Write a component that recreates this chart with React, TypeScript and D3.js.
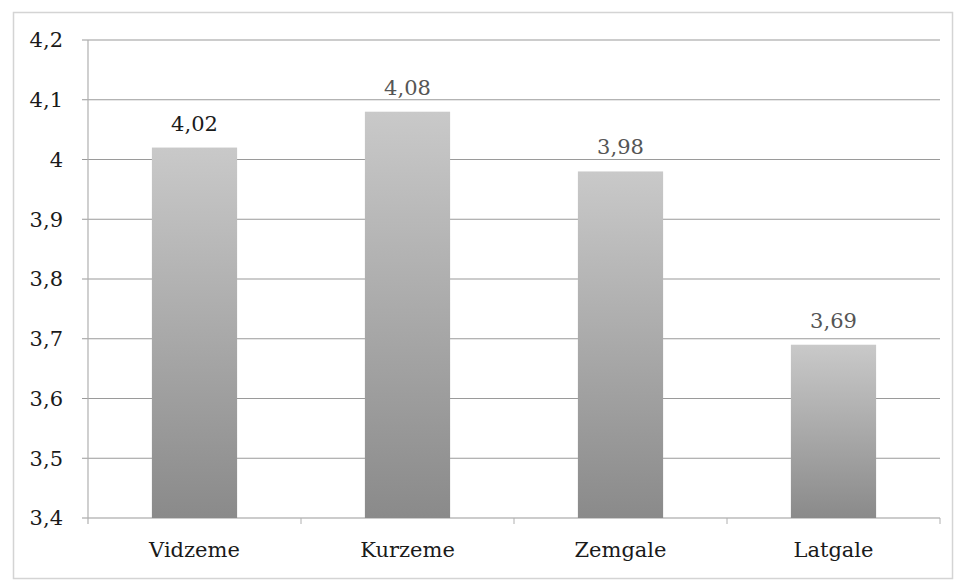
import React from "react";
import * as d3 from "d3";

const categories = ["Vidzeme", "Kurzeme", "Zemgale", "Latgale"];
const values = [4.02, 4.08, 3.98, 3.69];
const valueLabels = ["4,02", "4,08", "3,98", "3,69"];
const yTicks = [3.4, 3.5, 3.6, 3.7, 3.8, 3.9, 4.0, 4.1, 4.2];

export default function App() {
  const W = 959, H = 581;
  const left = 88, right = 940, top = 40, bottom = 518;
  const x = d3.scaleBand().domain(categories).range([left, right]).paddingInner(0).paddingOuter(0);
  const y = d3.scaleLinear().domain([3.4, 4.2]).range([bottom, top]);
  const bw = x.bandwidth() * 0.4;
  const font = "DejaVu Serif";
  const fs = 21;
  const fmt = (v: number) => (Number.isInteger(v) ? String(v) : String(v).replace(".", ","));
  return (
    <svg width={W} height={H} style={{ position: "absolute", left: 0, top: 0, background: "#fff" }}>
      <defs>
        <linearGradient id="barGrad" x1="0" y1="0" x2="0" y2="1">
          <stop offset="0%" stopColor="#c9c9c9" />
          <stop offset="100%" stopColor="#8a8a8a" />
        </linearGradient>
      </defs>
      <rect x={13.5} y={12.5} width={939} height={566} fill="#fff" stroke="#d4d4d4" strokeWidth={1.5} />
      {yTicks.map((t) => (
        <g key={t}>
          <line x1={left - 6} x2={right} y1={y(t)} y2={y(t)} stroke="#9a9a9a" strokeWidth={1.2} />
          <text x={63} y={y(t)} dy="0.35em" textAnchor="end" style={{ fontFamily: font }} fontSize={fs} fill="#1a1a1a">
            {fmt(t)}
          </text>
        </g>
      ))}
      <line x1={left} x2={left} y1={top} y2={bottom + 6} stroke="#b0b0b0" strokeWidth={1.2} />
      {categories.map((c, i) => (
        <line key={"t" + i} x1={(x(c) as number) + x.bandwidth()} x2={(x(c) as number) + x.bandwidth()} y1={bottom} y2={bottom + 6} stroke="#b0b0b0" strokeWidth={1} />
      ))}
      {categories.map((c, i) => {
        const cx = (x(c) as number) + x.bandwidth() / 2;
        return (
          <g key={c}>
            <rect x={cx - bw / 2} y={y(values[i])} width={bw} height={bottom - y(values[i])} fill="url(#barGrad)" />
            <text x={cx} y={y(values[i]) - 17} textAnchor="middle" style={{ fontFamily: font }} fontSize={fs} fill={i === 0 ? "#1a1a1a" : "#555"}>
              {valueLabels[i]}
            </text>
            <text x={cx} y={557} textAnchor="middle" style={{ fontFamily: font }} fontSize={fs} fill="#1a1a1a">
              {c}
            </text>
          </g>
        );
      })}
    </svg>
  );
}
